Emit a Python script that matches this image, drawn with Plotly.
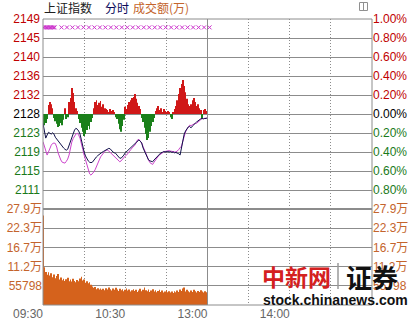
import plotly.graph_objects as go

# ---------------- data ----------------
prev_close = 2128.0
time_labels = ["09:30", "10:30", "13:00", "14:00"]
time_label_minutes = [0, 60, 120, 180]
grid_minutes = [0, 30, 60, 90, 120, 150, 180, 210]
price_labels = ["2111", "2115", "2119", "2123", "2128", "2132", "2136", "2140", "2145", "2149"]
pct_labels = ["0.80%", "0.60%", "0.40%", "0.20%", "0.00%", "0.20%", "0.40%", "0.60%", "0.80%", "1.00%"]
pct_steps = [-4, -3, -2, -1, 0, 1, 2, 3, 4, 5]
vol_labels = ["55798", "11.2万", "16.7万", "22.3万", "27.9万"]
vol_step = 5.5798  # 万

price = [2125.9, 2124.4, 2122.6, 2123.3, 2123.9, 2123.7, 2123.5, 2123.8, 2123.5, 2122.8,
         2122.4, 2121.9, 2121.5, 2121.0, 2120.7, 2120.4, 2120.1, 2119.9, 2120.1, 2121.0,
         2122.2, 2122.9, 2123.7, 2124.4, 2124.8, 2124.6, 2124.2, 2123.5, 2122.2, 2120.6,
         2119.5, 2118.6, 2117.9, 2117.5, 2117.2, 2117.1, 2117.2, 2117.7, 2118.1, 2118.4,
         2118.7, 2119.0, 2119.3, 2119.4, 2119.6, 2119.8, 2120.1, 2120.3, 2120.3, 2120.2,
         2119.8, 2119.5, 2119.3, 2119.2, 2118.8, 2118.5, 2118.1, 2118.1, 2118.4, 2118.8,
         2119.3, 2119.6, 2119.9, 2120.1, 2120.5, 2120.8, 2121.0, 2121.3, 2121.6, 2121.9,
         2122.2, 2121.9, 2121.5, 2120.4, 2119.7, 2118.9, 2118.4, 2117.7, 2117.5, 2117.4,
         2117.3, 2117.7, 2118.0, 2118.4, 2118.8, 2119.0, 2119.3, 2119.4, 2119.6, 2119.5,
         2119.6, 2119.6, 2119.5, 2119.6, 2119.4, 2119.5, 2119.3, 2119.4, 2119.2, 2119.1,
         2118.8, 2120.4, 2122.2, 2123.5, 2124.2, 2124.6, 2125.1, 2125.2, 2124.9, 2125.3,
         2125.7, 2125.9, 2126.2, 2126.5, 2126.7, 2126.9, 2127.0, 2126.9, 2127.0, 2127.0,
         2127.2]

avg = [2121.8, 2120.8, 2119.5, 2118.8, 2119.5, 2120.4, 2121.0, 2121.4, 2121.5, 2121.4,
       2120.6, 2119.3, 2118.4, 2117.7, 2117.2, 2117.0, 2117.0, 2117.4, 2117.9, 2118.8,
       2120.4, 2121.7, 2122.5, 2123.1, 2123.5, 2123.7, 2123.3, 2122.6, 2121.6, 2120.1,
       2118.8, 2117.7, 2116.3, 2115.2, 2114.6, 2114.3, 2114.6, 2115.0, 2115.5, 2116.3,
       2117.2, 2117.9, 2118.4, 2118.8, 2119.3, 2119.6, 2119.9, 2119.9, 2119.7, 2119.4,
       2119.0, 2118.8, 2118.5, 2118.1, 2117.8, 2117.5, 2117.3, 2117.5, 2117.9, 2118.2,
       2118.6, 2118.8, 2119.3, 2119.7, 2120.0, 2120.4, 2120.7, 2121.0, 2121.6, 2122.2,
       2122.3, 2122.0, 2121.5, 2120.7, 2119.9, 2119.0, 2118.2, 2117.7, 2117.1, 2116.8,
       2116.7, 2117.2, 2117.7, 2118.1, 2118.5, 2118.8, 2119.1, 2119.4, 2119.5, 2119.6,
       2119.7, 2119.8, 2119.8, 2119.7, 2119.6, 2119.5, 2119.5, 2119.5, 2119.7, 2120.0,
       2120.5, 2120.7, 2121.9, 2123.3, 2124.0, 2124.6, 2125.1, 2125.5, 2125.4, 2125.6,
       2125.7, 2125.9, 2125.9, 2126.2, 2126.6, 2126.9, 2127.0, 2127.0, 2127.0, 2127.0,
       2127.1]

strength = [-1.8, -2.5, -2.0, -1.1, 2.0, 2.7, 2.2, 1.3, -0.9, -1.6,
            -2.2, -2.9, -2.7, -2.0, -2.5, -1.3, 1.3, -1.1, -0.7, 2.7,
            3.6, 5.8, 4.7, 2.7, 1.3, 0.7, -1.1, -2.0, -3.1, -4.0,
            -4.9, -4.5, -3.6, -2.7, -3.4, -1.8, -0.9, 1.3, 2.7, 3.1,
            2.0, 2.5, 2.9, 1.6, 2.2, 1.3, 1.1, 0.9, 0.4, 1.1,
            0.7, 0.9, 0.4, -0.7, -1.1, -2.2, -3.4, -4.0, -2.7, -1.3,
            1.6, 1.1, 2.0, 2.7, 3.1, 3.6, 3.8, 4.5, 3.4, 2.5,
            1.8, 1.1, -0.9, -1.8, -3.1, -4.5, -5.8, -5.4, -4.0, -2.7,
            -1.8, -0.9, 0.7, 1.3, 1.8, 0.9, 1.3, 0.4, 1.1, 0.7,
            0.4, 0.7, 0.4, -0.7, -1.1, 0.4, 1.1, 1.8, 3.1, 4.5,
            5.8, 6.7, 7.6, 6.3, 4.9, 3.4, 2.2, 1.8, 2.2, 3.1,
            3.6, 2.7, 1.8, 2.2, 1.3, 0.9, -1.1, 0.9, 1.1, 0.7,
            0.9]

volume = [26.0, 11.0, 9.6, 8.8, 9.5, 8.6, 9.2, 8.1, 8.9, 7.8,
          8.4, 9.0, 7.4, 8.0, 7.2, 7.6, 7.0, 7.5, 7.9, 6.9,
          7.4, 6.8, 7.6, 7.0, 6.6, 7.3, 6.9, 7.7, 8.2, 7.1,
          7.4, 6.5, 6.9, 6.3, 6.6, 5.9, 5.4, 5.0, 5.2, 4.6,
          4.9, 4.5, 4.8, 4.4, 4.7, 4.3, 4.9, 4.5, 5.1, 4.6,
          4.2, 4.8, 4.4, 5.0, 4.5, 4.1, 4.7, 4.3, 4.6, 4.0,
          4.4, 4.8, 4.2, 4.5, 3.9, 4.3, 4.6, 4.1, 4.4, 3.8,
          4.2, 4.7, 4.0, 4.4, 5.1, 4.3, 4.0, 4.5, 3.8, 4.2,
          4.6, 3.9, 4.3, 3.7, 4.1, 4.4, 3.8, 4.2, 3.6, 3.9,
          4.3, 3.7, 4.0, 3.6, 3.9, 3.5, 4.0, 3.7, 4.2, 3.8,
          4.5, 4.1, 4.8, 5.1, 3.9, 4.4, 4.0, 3.7, 4.2, 3.8,
          4.4, 4.0, 3.6, 4.1, 3.8, 4.3, 3.9, 3.6, 4.0, 3.7,
          3.1]

marker_minutes = [0.5, 1.5, 2.5, 3.5, 4.5, 5.5, 6.5, 7.5, 8.5,
                  13.5, 17.5, 21.5, 25.5, 29.5, 33.5, 37.5, 41.5, 45.5, 49.5,
                  53.5, 57.5, 61.5, 65.5, 69.5, 73.5, 77.5, 81.5, 85.5, 89.5,
                  93.5, 97.5, 101.5, 105.5, 109.5, 113.5, 117.5, 121.5]
marker_level = 2147.4

# ---------------- styling ----------------
RED, GREEN, BLACK = "#c00000", "#1a7a1a", "#000000"
VOLC = "#c4642c"
GRID = "#8c8c8c"
FONT = "Liberation Sans, Arial, Noto Sans CJK SC"
CJK = "Noto Sans CJK SC, Liberation Sans"
BAR_W = 0.55

minutes = list(range(len(price)))

def lab_color(k):
    return RED if k > 0 else (BLACK if k == 0 else GREEN)

price_ticks = [prev_close * (1 + 0.002 * k) for k in pct_steps]
left_text = [f'<span style="color:{lab_color(k)}">{t}</span>' for k, t in zip(pct_steps, price_labels)]
right_text = [f'<span style="color:{lab_color(k)}">{t}</span>' for k, t in zip(pct_steps, pct_labels)]
p_lo, p_hi = prev_close * 0.99, prev_close * 1.01 + 0.002
vol_ticks = [vol_step * (i + 1) for i in range(len(vol_labels))]
vol_hi = vol_step * len(vol_labels) * 1.0001
x_text = [time_labels[time_label_minutes.index(m)] if m in time_label_minutes else "" for m in grid_minutes]

# plot area geometry (px)
W, H = 416, 320
L, R, T, B = 43, 44, 19, 15
PW, PH = W - L - R, H - T - B
vol_frac = 96 / PH

def px(x):
    return (x - L) / PW

def py(y):
    return (H - B - y) / PH

fig = go.Figure()

fig.add_trace(go.Bar(
    x=minutes, y=strength, base=prev_close, width=BAR_W,
    marker=dict(color=["#d01818" if v > 0 else "#1a801a" for v in strength], line=dict(width=0)),
    xaxis="x", yaxis="y", hoverinfo="skip"))
fig.add_trace(go.Scatter(x=minutes, y=avg, mode="lines",
                         line=dict(color="#cc44cc", width=1), xaxis="x", yaxis="y"))
fig.add_trace(go.Scatter(x=minutes, y=price, mode="lines",
                         line=dict(color="#10104a", width=1), xaxis="x", yaxis="y"))
fig.add_trace(go.Scatter(x=marker_minutes, y=[marker_level] * len(marker_minutes), mode="markers",
                         marker=dict(symbol="x-thin", size=4, line=dict(width=1, color="#cc33cc")),
                         xaxis="x", yaxis="y"))
fig.add_trace(go.Scatter(x=[0], y=[prev_close], mode="markers", marker=dict(opacity=0),
                         xaxis="x", yaxis="y2", hoverinfo="skip"))
fig.add_trace(go.Bar(x=minutes, y=volume, width=BAR_W,
                     marker=dict(color="#d5621c", line=dict(width=0)),
                     xaxis="x", yaxis="y3", hoverinfo="skip"))
fig.add_trace(go.Scatter(x=[0], y=[0], mode="markers", marker=dict(opacity=0),
                         xaxis="x", yaxis="y4", hoverinfo="skip"))

yax_common = dict(showline=False, zeroline=False, ticks="", fixedrange=True, automargin=False,
                  tickfont=dict(family=FONT, size=12))

fig.update_layout(
    width=W, height=H, margin=dict(l=L, r=R, t=T, b=B, pad=0),
    paper_bgcolor="white", plot_bgcolor="white", showlegend=False, barmode="overlay",
    xaxis=dict(domain=[0, 1], range=[0, 240], anchor="y3", tickmode="array",
               tickvals=grid_minutes, ticktext=x_text, showgrid=True, gridcolor=GRID,
               gridwidth=1, griddash="1px,2px", zeroline=False, showline=False, ticks="",
               tickfont=dict(family=FONT, size=12, color="#666666"), ticklabelshift=-15,
               fixedrange=True, automargin=False),
    yaxis=dict(domain=[vol_frac, 1], range=[p_lo, p_hi], anchor="x", side="left",
               tickmode="array", tickvals=price_ticks, ticktext=left_text, ticklabelstandoff=2,
               showgrid=True, gridcolor=GRID, gridwidth=1, **yax_common),
    yaxis2=dict(domain=[vol_frac, 1], range=[p_lo, p_hi], anchor="x", side="right",
                overlaying="y", tickmode="array", tickvals=price_ticks, ticktext=right_text,
                showgrid=False, **yax_common),
    yaxis3=dict(domain=[0, vol_frac], range=[0, vol_hi], anchor="x", side="left",
                tickmode="array", tickvals=vol_ticks,
                ticktext=[f'<span style="color:{VOLC}">{t}</span>' for t in vol_labels],
                showgrid=True, gridcolor=GRID, gridwidth=1, **yax_common),
    yaxis4=dict(domain=[0, vol_frac], range=[0, vol_hi], anchor="x", side="right",
                overlaying="y3", tickmode="array", tickvals=vol_ticks,
                ticktext=[f'<span style="color:{VOLC}">{t}</span>' for t in vol_labels],
                showgrid=False, **yax_common),
)

shapes = [
    dict(type="rect", xref="x domain", yref="y domain", x0=0, x1=1, y0=0, y1=1,
         line=dict(color=GRID, width=1)),
    dict(type="rect", xref="x domain", yref="y3 domain", x0=0, x1=1, y0=0, y1=1,
         line=dict(color=GRID, width=1)),
    dict(type="line", xref="x domain", yref="y domain", x0=0, x1=1, y0=0, y1=0,
         line=dict(color=GRID, width=2)),
    dict(type="line", xref="x", yref="paper", x0=120, x1=120, y0=0, y1=1,
         line=dict(color=GRID, width=1)),
    # small window icon at top right
    dict(type="rect", xref="paper", yref="paper", x0=px(359.5), x1=px(367.5), y0=py(10.5), y1=py(2.5),
         line=dict(color="#909090", width=1)),
    dict(type="line", xref="paper", yref="paper", x0=px(363.5), x1=px(363.5), y0=py(10.5), y1=py(2.5),
         line=dict(color="#909090", width=1)),
    # watermark divider
    dict(type="line", xref="paper", yref="paper", x0=px(338), x1=px(338), y0=py(289), y1=py(263),
         line=dict(color="#9a9a9a", width=1.5)),
]
fig.update_layout(shapes=shapes)

ann = [
    dict(text="上证指数", x=px(43), y=py(8), color="#202020", size=12, family=CJK),
    dict(text="分时", x=px(104), y=py(8), color="#0a0a5a", size=12, family=CJK),
    dict(text="成交额(万)", x=px(132), y=py(8), color=VOLC, size=12, family=CJK),
    dict(text="<b>中新网</b>", x=px(261), y=py(276), color="#d42020", size=23, family=CJK),
    dict(text="<b>证券</b>", x=px(345), y=py(276), color="#111111", size=26, family=CJK),
    dict(text="<b>stock.chinanews.com</b>", x=px(262), y=py(300), color="#111111", size=14, family=FONT),
]
fig.update_layout(annotations=[
    dict(text=a["text"], x=a["x"], y=a["y"], xref="paper", yref="paper", xanchor="left",
         yanchor="middle", showarrow=False, borderpad=0,
         font=dict(color=a["color"], size=a["size"], family=a["family"]))
    for a in ann])

fig.write_html("out.html")
